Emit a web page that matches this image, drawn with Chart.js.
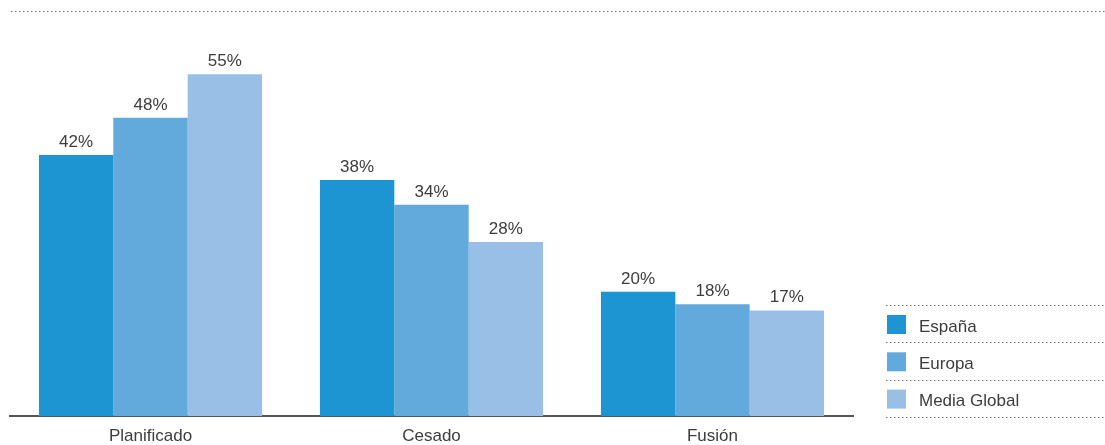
<!DOCTYPE html>
<html lang="es">
<head>
<meta charset="UTF-8">
<title>Planificado / Cesado / Fusión</title>
<script src="https://cdn.jsdelivr.net/npm/chart.js@4.4.1/dist/chart.umd.min.js"></script>
<style>
    html, body { margin: 0; padding: 0; background: #fff; overflow: hidden; }
    #wrap { width: 1105px; height: 445px; position: relative; }
</style>
</head>
<body>
<div id="wrap"><canvas id="chart" width="1105" height="445"></canvas></div>
<script>
// categorias y series
const categorias = ['Planificado', 'Cesado', 'Fusión'];
const series = ['España', 'Europa', 'Media Global'];
const espana = [42, 38, 20];
const europa = [48, 34, 18];
const mediaGlobal = [55, 28, 17];
const colores = ['#1e95d3', '#62aadc', '#9abfe6'];

const FUENTE = '"Liberation Sans", Arial, sans-serif';
const TEXTO = '#3d3d3d';

// linea punteada horizontal
function punteada(ctx, x1, x2, y) {
    ctx.save();
    ctx.strokeStyle = '#7a7a7a';
    ctx.lineWidth = 1.2;
    ctx.setLineDash([1.5, 2.5]);
    ctx.beginPath();
    ctx.moveTo(x1, y + 0.5);
    ctx.lineTo(x2, y + 0.5);
    ctx.stroke();
    ctx.restore();
}

// etiquetas de valor, linea superior y leyenda
const extras = {
    id: 'extras',
    afterDatasetsDraw(chart) {
        const ctx = chart.ctx;
        ctx.save();
        ctx.font = '17px ' + FUENTE;
        ctx.fillStyle = TEXTO;
        ctx.textAlign = 'center';
        ctx.textBaseline = 'alphabetic';
        chart.data.datasets.forEach((ds, i) => {
            chart.getDatasetMeta(i).data.forEach((bar, j) => {
                ctx.fillText(ds.data[j] + '%', bar.x, bar.y - 8);
            });
        });
        ctx.restore();

        punteada(ctx, 11, 1105, 11);

        // leyenda
        const lx = 886, top = 305, paso = 37.3;
        ctx.save();
        ctx.font = '17px ' + FUENTE;
        ctx.textAlign = 'left';
        ctx.textBaseline = 'alphabetic';
        punteada(ctx, lx, 1105, top);
        chart.data.datasets.forEach((ds, i) => {
            const y = top + i * paso;
            ctx.fillStyle = ds.backgroundColor;
            ctx.fillRect(887, y + 10, 19, 19);
            ctx.fillStyle = TEXTO;
            ctx.fillText(ds.label, 919, y + 26.5);
            punteada(ctx, lx, 1105, Math.round(top + (i + 1) * paso));
        });
        ctx.restore();
    }
};

new Chart(document.getElementById('chart'), {
    type: 'bar',
    data: {
        labels: categorias,
        datasets: [
            { label: series[0], data: espana, backgroundColor: colores[0] },
            { label: series[1], data: europa, backgroundColor: colores[1] },
            { label: series[2], data: mediaGlobal, backgroundColor: colores[2] }
        ]
    },
    options: {
        responsive: false,
        animation: false,
        devicePixelRatio: 1,
        layout: { padding: { left: 10, right: 252, top: 11, bottom: 0 } },
        datasets: { bar: { categoryPercentage: 0.794, barPercentage: 1, borderWidth: 0 } },
        plugins: { legend: { display: false }, tooltip: { enabled: false } },
        scales: {
            x: {
                grid: { display: false },
                border: { display: true, color: '#555', width: 2 },
                ticks: { color: TEXTO, font: { family: FUENTE, size: 17 }, padding: 2 },
                afterFit(scale) { scale.height = 29; }
            },
            y: {
                display: false,
                min: 0,
                max: 65.2
            }
        }
    },
    plugins: [extras]
});
</script>
</body>
</html>
